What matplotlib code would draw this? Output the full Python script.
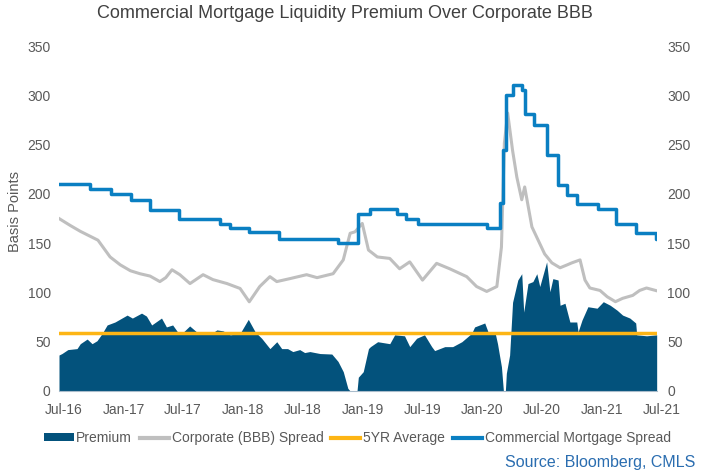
import matplotlib
matplotlib.use("Agg")
import matplotlib.pyplot as plt
import matplotlib.transforms as mtransforms
from matplotlib.patches import Patch
from matplotlib.lines import Line2D
import pandas as pd

plt.rcParams['font.family'] = ['Liberation Sans', 'DejaVu Sans']

# Commercial mortgage spread (step changes: date -> new level)
cm_dates = ["2016-07-01", "2016-10-04", "2016-12-07", "2017-02-07", "2017-04-04",
            "2017-07-02", "2017-11-05", "2017-12-05", "2018-02-02", "2018-05-03",
            "2018-10-31", "2019-01-01", "2019-02-07", "2019-04-28", "2019-05-28",
            "2019-07-01", "2020-01-28", "2020-03-08", "2020-03-17", "2020-03-26",
            "2020-04-17", "2020-05-14", "2020-05-23", "2020-06-20", "2020-07-29",
            "2020-09-02", "2020-09-30", "2020-10-30", "2021-01-03", "2021-02-27",
            "2021-04-27", "2021-06-28", "2021-06-30"]
cm_values = [210, 205, 200, 194, 184,
             175, 169, 165, 161, 154,
             150, 180, 184.5, 179.5, 175,
             169, 165, 191, 245, 300,
             310, 305, 281.5, 270, 239,
             209, 199, 190, 184.5, 169,
             160, 154, 154]

# Corporate (BBB) spread
bbb_dates = ["2016-07-01", "2016-08-04", "2016-09-04", "2016-10-04", "2016-10-28",
             "2016-12-04", "2017-01-04", "2017-02-04", "2017-03-05", "2017-04-05",
             "2017-05-05", "2017-05-23", "2017-06-11", "2017-07-05", "2017-08-05",
             "2017-09-14", "2017-10-14", "2017-11-26", "2018-01-05", "2018-02-02",
             "2018-03-06", "2018-04-06", "2018-04-27", "2018-06-06", "2018-07-27",
             "2018-08-28", "2018-10-16", "2018-11-16", "2018-12-07", "2018-12-22",
             "2019-01-13", "2019-02-01", "2019-02-28", "2019-04-07", "2019-05-07",
             "2019-06-07", "2019-07-16", "2019-08-28", "2019-10-07", "2019-11-28",
             "2019-12-28", "2020-01-28", "2020-02-28", "2020-03-13", "2020-03-22",
             "2020-04-01", "2020-04-16", "2020-04-29", "2020-05-14", "2020-05-23",
             "2020-06-14", "2020-07-23", "2020-08-14", "2020-09-08", "2020-09-30",
             "2020-10-14", "2020-11-08", "2020-11-23", "2020-12-08", "2021-01-08",
             "2021-01-30", "2021-02-24", "2021-03-18", "2021-04-18", "2021-05-09",
             "2021-05-30", "2021-06-30"]
bbb_values = [175, 168, 162, 157, 153,
              136, 128, 122, 119, 116.6,
              111, 115, 123, 118, 109,
              118, 113, 109, 104, 90.5,
              106, 116, 111, 114, 118,
              115, 119, 133, 160, 161.5,
              170, 143, 136, 134.5, 124,
              131, 112.5, 129.5, 124, 116,
              106, 101, 106, 146, 251.5,
              282, 244, 217, 194, 207,
              166.5, 139, 130, 125, 128,
              130, 133, 112.6, 104.5, 102,
              95.6, 90.6, 94, 97, 102,
              104.5, 101.7]

# Premium (area)
prem_dates = ["2016-07-01", "2016-07-10", "2016-07-28", "2016-08-25", "2016-09-04",
              "2016-09-25", "2016-10-10", "2016-10-25", "2016-11-10", "2016-11-25",
              "2016-12-19", "2017-01-25", "2017-02-10", "2017-03-10", "2017-03-25",
              "2017-04-10", "2017-05-10", "2017-05-25", "2017-06-13", "2017-06-28",
              "2017-07-13", "2017-08-04", "2017-08-25", "2017-09-19", "2017-10-15",
              "2017-10-26", "2017-11-14", "2017-12-06", "2018-01-05", "2018-01-30",
              "2018-02-20", "2018-03-12", "2018-04-06", "2018-04-27", "2018-05-12",
              "2018-05-30", "2018-06-15", "2018-07-06", "2018-07-21", "2018-08-06",
              "2018-09-06", "2018-10-12", "2018-10-31", "2018-11-16", "2018-11-30",
              "2018-12-07", "2018-12-28", "2019-01-01", "2019-01-16", "2019-02-01",
              "2019-02-07", "2019-03-01", "2019-04-07", "2019-04-22", "2019-05-22",
              "2019-06-07", "2019-06-28", "2019-07-22", "2019-08-13", "2019-08-22",
              "2019-09-22", "2019-10-16", "2019-11-13", "2019-12-13", "2019-12-22",
              "2020-01-22", "2020-02-01", "2020-02-22", "2020-03-01", "2020-03-13",
              "2020-03-19", "2020-03-25", "2020-03-28", "2020-04-07", "2020-04-16",
              "2020-05-02", "2020-05-14", "2020-05-20", "2020-06-02", "2020-06-17",
              "2020-06-29", "2020-07-08", "2020-07-29", "2020-08-08", "2020-08-17",
              "2020-09-02", "2020-09-08", "2020-09-23", "2020-10-08", "2020-10-29",
              "2020-11-02", "2020-11-14", "2020-12-02", "2020-12-30", "2021-01-18",
              "2021-02-08", "2021-03-01", "2021-03-18", "2021-04-09", "2021-04-27",
              "2021-04-30", "2021-05-30", "2021-06-30"]
prem_values = [36.5, 38, 42, 43, 48,
               52.7, 48, 51, 58.5, 67,
               70, 77, 74, 79, 76,
               67, 74, 65, 67, 60,
               59, 66, 60, 58.5, 59.5,
               62, 61, 57, 58.5, 72.7,
               60, 53.4, 43, 50, 43,
               43, 40, 42, 39, 40,
               38, 37.5, 30, 19.6, 2.7,
               0, 0, 14, 19.6, 43,
               45, 50, 48, 57, 56,
               45, 53.5, 57, 45, 41,
               45, 45, 50, 58.5, 65,
               69, 60, 60, 48, 24.6,
               0, 0, 18, 36.5, 90,
               112.6, 119, 80, 109, 111,
               119, 106, 131, 100.7, 114,
               112.6, 87, 89, 70, 70,
               60, 72, 85.5, 84, 90.6,
               87, 82, 77, 74, 69,
               57, 56, 57]

avg_5yr = 59

x_ticks = ["2016-07-01", "2017-01-01", "2017-07-01", "2018-01-01", "2018-07-01",
           "2019-01-01", "2019-07-01", "2020-01-01", "2020-07-01", "2021-01-01",
           "2021-07-01"]
x_tick_labels = ["Jul-16", "Jan-17", "Jul-17", "Jan-18", "Jul-18", "Jan-19",
                 "Jul-19", "Jan-20", "Jul-20", "Jan-21", "Jul-21"]
y_ticks = [0, 50, 100, 150, 200, 250, 300, 350]

C_PREM = "#03527c"
C_BBB = "#bfbfbf"
C_AVG = "#fdb515"
C_CM = "#0a7fc2"
TXT = "#595959"

cm_d = pd.to_datetime(cm_dates)
bbb_d = pd.to_datetime(bbb_dates)
prem_d = pd.to_datetime(prem_dates)
xt = pd.to_datetime(x_ticks)

fig = plt.figure(figsize=(7.12, 4.72), dpi=100)
ax = fig.add_axes([59/712, 1-391/472, (657-59)/712, (391-46)/472])

ax.fill_between(prem_d, 0, prem_values, color=C_PREM, linewidth=0, zorder=1)
ax.plot(bbb_d, bbb_values, color=C_BBB, lw=2.2, zorder=2)
ax.axhline(avg_5yr, color=C_AVG, lw=2.5, zorder=3)
ax.plot(cm_d, cm_values, color=C_CM, lw=2.5, drawstyle="steps-post", zorder=4)

ax.set_ylim(0, 350)
ax.set_xlim(pd.Timestamp("2016-07-01"), pd.Timestamp("2021-07-01"))
ax.set_yticks(y_ticks)
ax.set_xticks(xt)
ax.set_xticklabels(x_tick_labels)
for s in ["top", "right", "left"]:
    ax.spines[s].set_visible(False)
ax.spines["bottom"].set_color("#a9bccb")
ax.spines["bottom"].set_linewidth(0.8)
ax.tick_params(axis="both", length=0, labelsize=10, colors=TXT)
ax.tick_params(axis="x", pad=9)
ax.tick_params(axis="y", pad=6)
shift = mtransforms.ScaledTranslation(4.5/100, 0, fig.dpi_scale_trans)
for lab in ax.get_xticklabels():
    lab.set_transform(lab.get_transform() + shift)

ax2 = ax.twinx()
ax2.set_ylim(0, 350)
ax2.set_yticks(y_ticks)
for s in ["top", "right", "left", "bottom"]:
    ax2.spines[s].set_visible(False)
ax2.tick_params(axis="y", length=0, labelsize=10, colors=TXT, pad=7.5)

fig.text(15/712, 1-211/472, "Basis Points", rotation=90, ha="center", va="center",
         fontsize=10.5, color=TXT)

fig.text(345/712, 1-14/472, "Commercial Mortgage Liquidity Premium Over Corporate BBB",
         ha="center", va="center", fontsize=13, color="#404040")

handles = [Patch(facecolor=C_PREM, edgecolor="none"),
           Line2D([0], [0], color=C_BBB, lw=3),
           Line2D([0], [0], color=C_AVG, lw=3),
           Line2D([0], [0], color=C_CM, lw=3)]
labels = ["Premium", "Corporate (BBB) Spread", "5YR Average", "Commercial Mortgage Spread"]
fig.legend(handles, labels, loc="center", bbox_to_anchor=(357.5/712, 1-438/472), ncol=4,
           frameon=False, fontsize=10, labelcolor=TXT, handlelength=2.1,
           handleheight=0.5, handletextpad=0.2, columnspacing=0.55, borderpad=0)

fig.text(695/712, 1-463/472, "Source: Bloomberg, CMLS", ha="right", va="center",
         fontsize=11.5, color="#2a6db0")

fig.savefig("out.png", dpi=100)
